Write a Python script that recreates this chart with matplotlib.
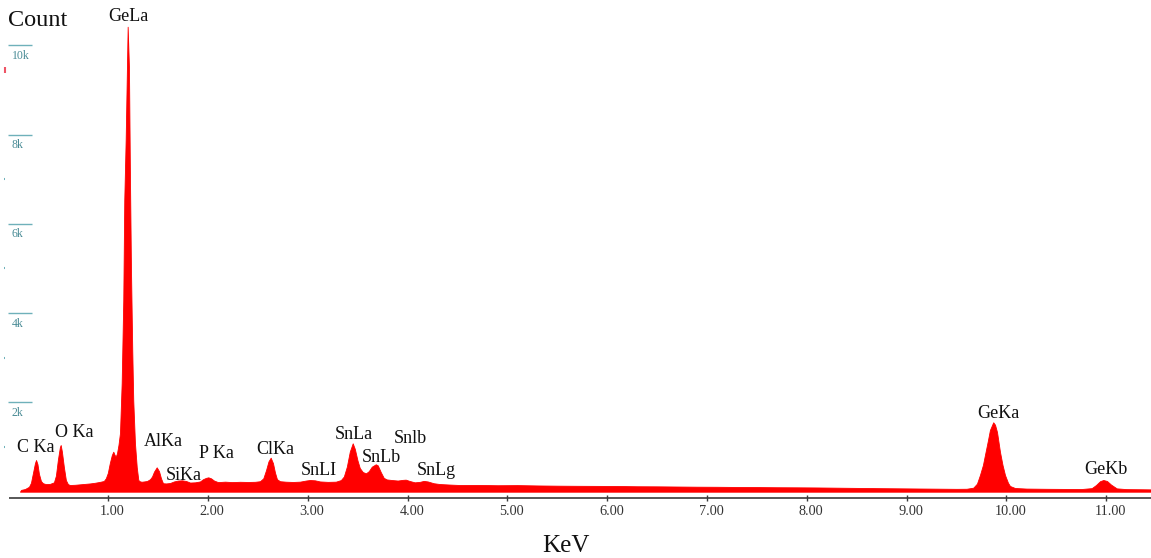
import matplotlib
matplotlib.use("Agg")
import matplotlib.pyplot as plt
from matplotlib.transforms import ScaledTranslation

# ---- spectrum (energy in keV, counts) ----
energy_kev = [
    0.115, 0.125, 0.165, 0.205, 0.225, 0.245, 0.265, 0.276, 0.29, 0.305,
    0.325, 0.345, 0.375, 0.415, 0.455, 0.475, 0.495, 0.515, 0.523, 0.535,
    0.555, 0.575, 0.595, 0.615, 0.665, 0.715, 0.765, 0.815, 0.865, 0.915,
    0.955, 0.975, 0.995, 1.015, 1.035, 1.05, 1.062, 1.074, 1.087, 1.102,
    1.117, 1.134, 1.15, 1.16, 1.174, 1.184, 1.194, 1.207, 1.217, 1.227,
    1.24, 1.25, 1.267, 1.285, 1.301, 1.318, 1.335, 1.358, 1.388, 1.418,
    1.438, 1.458, 1.485, 1.508, 1.528, 1.548, 1.578, 1.618, 1.658, 1.699,
    1.739, 1.779, 1.819, 1.869, 1.919, 1.949, 1.979, 2.002, 2.029, 2.059,
    2.099, 2.17, 2.24, 2.32, 2.40, 2.47, 2.52, 2.553, 2.58, 2.605,
    2.627, 2.65, 2.67, 2.69, 2.72, 2.78, 2.85, 2.92, 2.98, 3.02,
    3.07, 3.12, 3.20, 3.28, 3.33, 3.36, 3.39, 3.42, 3.449, 3.47,
    3.497, 3.52, 3.55, 3.582, 3.61, 3.64, 3.68, 3.70, 3.73, 3.76,
    3.79, 3.84, 3.90, 3.95, 3.98, 4.02, 4.07, 4.12, 4.16, 4.20,
    4.26, 4.32, 4.42, 4.52, 4.7, 4.9, 5.1, 5.3, 5.5, 5.7,
    5.9, 6.1, 6.3, 6.5, 6.7, 6.9, 7.1, 7.3, 7.5, 7.7,
    7.9, 8.1, 8.3, 8.5, 8.7, 8.9, 9.1, 9.3, 9.5, 9.6,
    9.667, 9.704, 9.734, 9.764, 9.784, 9.814, 9.834, 9.867, 9.885, 9.905,
    9.935, 9.96, 9.985, 10.015, 10.035, 10.085, 10.2, 10.4, 10.6, 10.75,
    10.854, 10.897, 10.937, 10.97, 11.007, 11.047, 11.104, 11.2, 11.35, 11.45,
]
counts = [
    0, 40, 60, 110, 200, 420, 640, 710, 620, 400,
    240, 190, 170, 175, 210, 360, 720, 1000, 1046, 900,
    550, 260, 170, 150, 155, 165, 175, 185, 200, 220,
    240, 300, 420, 640, 820, 896, 830, 784, 860, 1050,
    1315, 2435, 4290, 6530, 7880, 9150, 10416, 9510, 7050, 5030,
    3170, 2050, 1090, 550, 260, 230, 224, 230, 240, 280,
    340, 450, 546, 460, 300, 190, 185, 195, 230, 250,
    255, 240, 205, 210, 230, 280, 310, 322, 300, 250,
    215, 225, 215, 222, 218, 222, 235, 300, 480, 680,
    762, 640, 430, 280, 235, 224, 218, 225, 250, 262,
    255, 230, 220, 225, 260, 340, 560, 900, 1084, 960,
    700, 530, 440, 412, 460, 560, 614, 590, 440, 310,
    275, 262, 250, 265, 270, 240, 210, 220, 242, 230,
    190, 172, 160, 150, 152, 145, 148, 140, 135, 132,
    130, 128, 122, 120, 116, 112, 110, 106, 104, 100,
    98, 95, 90, 85, 80, 76, 72, 68, 64, 66,
    90, 180, 374, 600, 822, 1150, 1382, 1555, 1500, 1337,
    890, 600, 374, 200, 128, 83, 70, 65, 62, 60,
    80, 150, 235, 262, 240, 160, 75, 58, 55, 52,
]

# ---- peak labels: text, x (keV), baseline (counts) ----
peak_names = ["GeLa", "C Ka", "O Ka", "AlKa", "SiKa", "P Ka", "ClKa", "SnLI",
              "SnLa", "SnLb", "Snlb", "SnLg", "GeKa", "GeKb"]
peak_label_x = [1.204, 0.27, 0.658, 1.552, 1.757, 2.081, 2.673, 3.105,
                3.456, 3.739, 4.023, 4.282, 9.917, 10.991]
peak_label_y = [10550, 896, 1219, 1030, 262, 762, 838, 374,
                1174, 659, 1084, 374, 1658, 390]

x_ticks = [1, 2, 3, 4, 5, 6, 7, 8, 9, 10, 11]
x_tick_labels = ["1.00", "2.00", "3.00", "4.00", "5.00", "6.00",
                 "7.00", "8.00", "9.00", "10.00", "11.00"]
y_ticks = [2000, 4000, 6000, 8000, 10000]
y_tick_labels = ["2k", "4k", "6k", "8k", "10k"]
y_minor = [1000, 3000, 5000, 7000]

SERIF = ["Liberation Serif", "DejaVu Serif"]
TEAL_LINE = "#6fb1ba"
TEAL_TEXT = "#4a8c96"

W, H = 1151, 558
fig = plt.figure(figsize=(W / 100, H / 100), dpi=100)
ax = fig.add_axes([0, (H - 497.7) / H, 1, 497.7 / H])
ax.set_xlim(-0.0852, 11.448)
ax.set_ylim(-134.4, 11014)
for s in ax.spines.values():
    s.set_visible(False)

# spectrum
ax.fill_between(energy_kev, counts, 0, color="#ff0000", lw=0.6,
                edgecolor="#ff0000")

# bottom axis line with ticks
ax.plot([0, 11.448], [-134.4, -134.4], color="#3a3a3a", lw=1.2,
        clip_on=False, solid_capstyle="butt")
ax.set_xticks(x_ticks)
ax.set_xticklabels(x_tick_labels, fontsize=10.3, family=SERIF, color="#333333")
ax.tick_params(axis="x", direction="inout", length=5, width=1,
               color="#3a3a3a", pad=3)
shift = ScaledTranslation(4 / 100, 0, fig.dpi_scale_trans)
for lab in ax.get_xticklabels():
    lab.set_transform(lab.get_transform() + shift)
ax.set_yticks([])

# count scale on the left: short teal bars with labels beneath
px_to_kev = 1 / 99.8
x0 = -0.0852
for v, t in zip(y_ticks, y_tick_labels):
    ax.plot([x0 + 8.3 * px_to_kev, x0 + 32.3 * px_to_kev], [v, v],
            color=TEAL_LINE, lw=1.0, solid_capstyle="butt")
    ax.text(x0 + 11.7 * px_to_kev, v - 13.5 * 22.4, t, fontsize=8.5,
            family=SERIF, color=TEAL_TEXT, ha="left", va="baseline")
for v in y_minor:
    ax.plot([x0 + 4 * px_to_kev, x0 + 5 * px_to_kev], [v, v],
            color=TEAL_LINE, lw=1.5, solid_capstyle="butt")
ax.plot([x0 + 5 * px_to_kev, x0 + 5 * px_to_kev], [9370, 9520],
        color="#ee5566", lw=1.5, solid_capstyle="butt")

# peak labels
for name, lx, ly in zip(peak_names, peak_label_x, peak_label_y):
    ax.text(lx, ly, name, fontsize=13, family=SERIF, color="#111111",
            ha="center", va="baseline")

# axis titles
fig.text(8 / W, 1 - 26 / H, "Count", fontsize=17.5, family=SERIF,
         color="#111111", ha="left", va="baseline")
fig.text(566 / W, 1 - 552 / H, "KeV", fontsize=18, family=SERIF,
         color="#111111", ha="center", va="baseline")

fig.savefig("out.png", dpi=100)
